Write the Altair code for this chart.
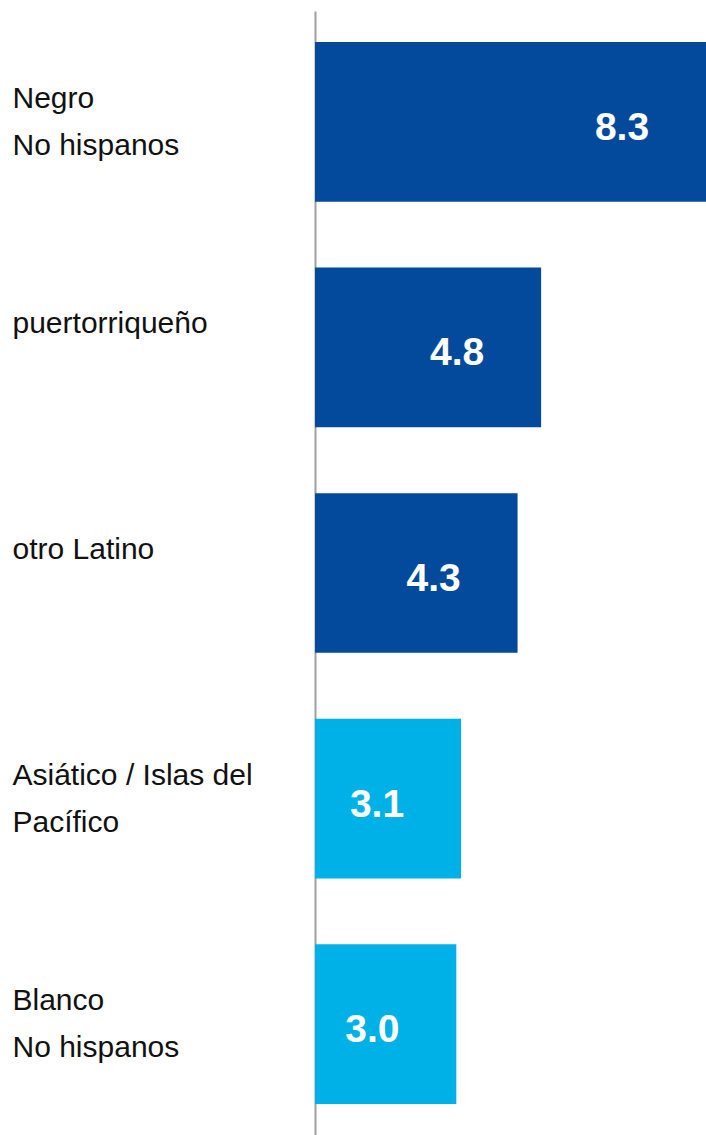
import altair as alt
import pandas as pd

categorias = ["Negro\nNo hispanos", "puertorriqueño", "otro Latino",
              "Asiático / Islas del\nPacífico", "Blanco\nNo hispanos"]
valores = [8.3, 4.8, 4.3, 3.1, 3.0]
grupo = ["oscuro", "oscuro", "oscuro", "claro", "claro"]

df = pd.DataFrame({"categoria": categorias, "valor": valores, "grupo": grupo})

y = alt.Y(
    "categoria:N",
    sort=None,
    title=None,
    scale=alt.Scale(paddingInner=0.292, paddingOuter=0.137),
    axis=alt.Axis(
        domainColor="#a0a0a0",
        domainWidth=2,
        ticks=False,
        tickSize=0,
        labelAlign="left",
        labelBaseline="middle",
        labelPadding=303,
        labelOffset=-23,
        labelFont="Liberation Sans",
        labelFontSize=30,
        labelColor="#111111",
        labelLineHeight=47,
        labelLimit=400,
        labelExpr="split(datum.label, '\\n')",
    ),
)

x = alt.X("valor:Q", axis=None,
          scale=alt.Scale(domain=[0, 8.3], nice=False, zero=True))

bars = alt.Chart(df).mark_bar().encode(
    x=x,
    y=y,
    color=alt.Color("grupo:N", legend=None,
                    scale=alt.Scale(domain=["oscuro", "claro"],
                                    range=["#034a9d", "#00b1e8"])),
)

text = alt.Chart(df).mark_text(
    align="center", baseline="middle", dx=-84, dy=6,
    font="Liberation Sans", fontSize=39, fontWeight="bold", color="white",
).encode(
    x=x,
    y=alt.Y("categoria:N", sort=None),
    text=alt.Text("valor:Q", format=".1f"),
)

chart = alt.layer(bars, text).properties(
    width=391,
    height=1124,
    padding={"left": 315, "top": 11, "right": 0, "bottom": 0},
    autosize=alt.AutoSizeParams(type="none"),
    background="white",
).configure_view(stroke=None)

chart.save("out.html", embed_options={"renderer": "svg", "actions": False})
